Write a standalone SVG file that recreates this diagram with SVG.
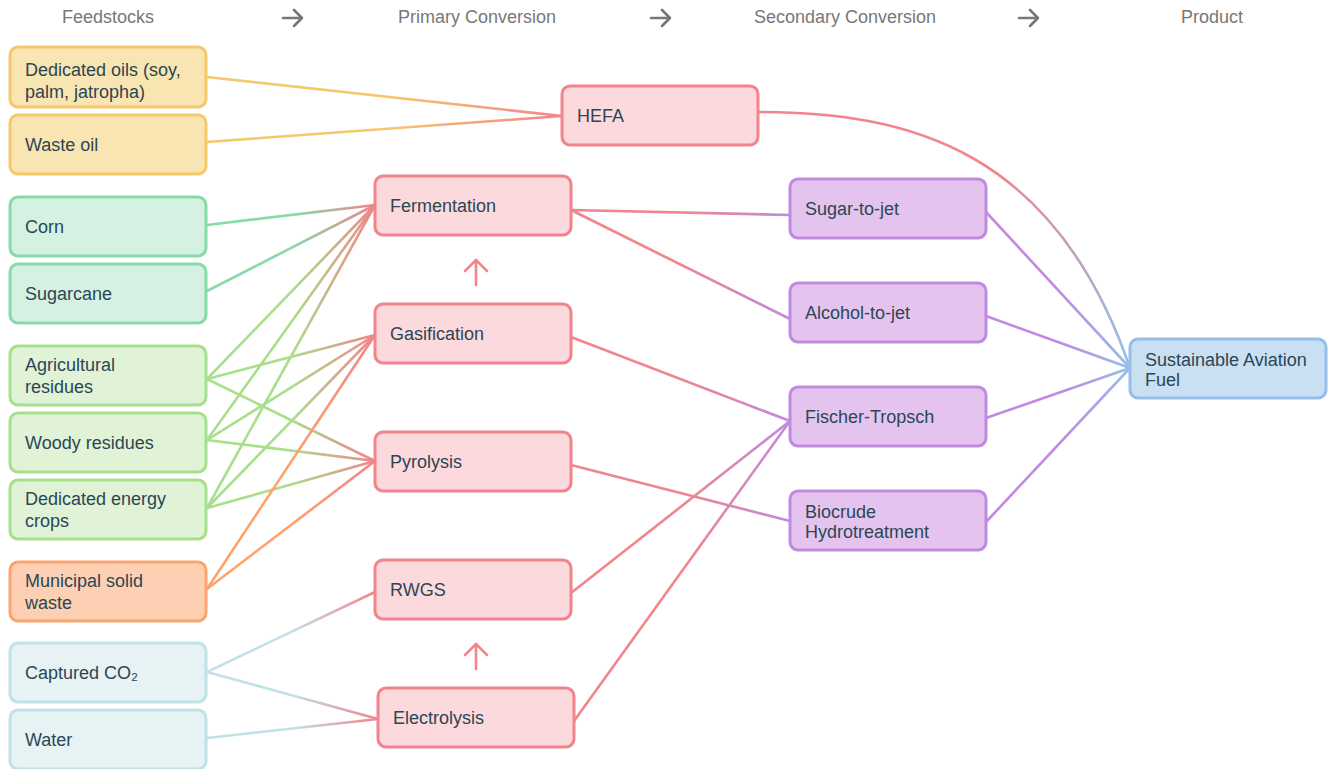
<svg xmlns="http://www.w3.org/2000/svg" width="1330" height="769" viewBox="0 0 1330 769">
<style>
.hdr{font-family:"Liberation Sans",Arial,sans-serif;font-size:18px;fill:#777;text-anchor:middle}
.harr{fill:none;stroke:#777;stroke-width:2.6;stroke-linecap:round;stroke-linejoin:round}
.t{font-family:"Liberation Sans",Arial,"Noto Sans",sans-serif;font-size:18px;fill:#2b4654}
rect{stroke-width:3}
.yel{fill:#f9e5b1;stroke:#f6c86c}
.grn{fill:#d4f1e2;stroke:#86dba8}
.lgr{fill:#e1f3d6;stroke:#a8df8a}
.org{fill:#fdd0b4;stroke:#fca46c}
.tea{fill:#e6f2f4;stroke:#c0e2e6}
.pnk{fill:#fcd9dc;stroke:#f2848b}
.pur{fill:#e4c4ee;stroke:#c08ae0}
.blu{fill:#c9dff2;stroke:#93bfea}
.c{fill:none;stroke-width:2.6}
.up{fill:none;stroke:#f2848b;stroke-width:2.6;stroke-linecap:round;stroke-linejoin:round}
</style>
<defs>
<linearGradient id="g1" gradientUnits="userSpaceOnUse" x1="207" y1="77" x2="562" y2="116"><stop offset="0.5" stop-color="#f6c86c"/><stop offset="1" stop-color="#f2848b"/></linearGradient>
<linearGradient id="g2" gradientUnits="userSpaceOnUse" x1="207" y1="142" x2="562" y2="116"><stop offset="0.5" stop-color="#f6c86c"/><stop offset="1" stop-color="#f2848b"/></linearGradient>
<linearGradient id="g3" gradientUnits="userSpaceOnUse" x1="207" y1="225" x2="375" y2="205"><stop offset="0.5" stop-color="#86dba8"/><stop offset="1" stop-color="#f2848b"/></linearGradient>
<linearGradient id="g4" gradientUnits="userSpaceOnUse" x1="207" y1="291" x2="375" y2="205"><stop offset="0.5" stop-color="#86dba8"/><stop offset="1" stop-color="#f2848b"/></linearGradient>
<linearGradient id="g5" gradientUnits="userSpaceOnUse" x1="207" y1="379" x2="375" y2="205"><stop offset="0.5" stop-color="#a8df8a"/><stop offset="1" stop-color="#f2848b"/></linearGradient>
<linearGradient id="g6" gradientUnits="userSpaceOnUse" x1="207" y1="379" x2="375" y2="335"><stop offset="0.5" stop-color="#a8df8a"/><stop offset="1" stop-color="#f2848b"/></linearGradient>
<linearGradient id="g7" gradientUnits="userSpaceOnUse" x1="207" y1="379" x2="375" y2="461"><stop offset="0.5" stop-color="#a8df8a"/><stop offset="1" stop-color="#f2848b"/></linearGradient>
<linearGradient id="g8" gradientUnits="userSpaceOnUse" x1="207" y1="440" x2="375" y2="205"><stop offset="0.5" stop-color="#a8df8a"/><stop offset="1" stop-color="#f2848b"/></linearGradient>
<linearGradient id="g9" gradientUnits="userSpaceOnUse" x1="207" y1="440" x2="375" y2="335"><stop offset="0.5" stop-color="#a8df8a"/><stop offset="1" stop-color="#f2848b"/></linearGradient>
<linearGradient id="g10" gradientUnits="userSpaceOnUse" x1="207" y1="440" x2="375" y2="461"><stop offset="0.5" stop-color="#a8df8a"/><stop offset="1" stop-color="#f2848b"/></linearGradient>
<linearGradient id="g11" gradientUnits="userSpaceOnUse" x1="207" y1="508" x2="375" y2="205"><stop offset="0.5" stop-color="#a8df8a"/><stop offset="1" stop-color="#f2848b"/></linearGradient>
<linearGradient id="g12" gradientUnits="userSpaceOnUse" x1="207" y1="508" x2="375" y2="335"><stop offset="0.5" stop-color="#a8df8a"/><stop offset="1" stop-color="#f2848b"/></linearGradient>
<linearGradient id="g13" gradientUnits="userSpaceOnUse" x1="207" y1="508" x2="375" y2="461"><stop offset="0.5" stop-color="#a8df8a"/><stop offset="1" stop-color="#f2848b"/></linearGradient>
<linearGradient id="g14" gradientUnits="userSpaceOnUse" x1="207" y1="589" x2="375" y2="335"><stop offset="0.5" stop-color="#fca46c"/><stop offset="1" stop-color="#f2848b"/></linearGradient>
<linearGradient id="g15" gradientUnits="userSpaceOnUse" x1="207" y1="589" x2="375" y2="461"><stop offset="0.5" stop-color="#fca46c"/><stop offset="1" stop-color="#f2848b"/></linearGradient>
<linearGradient id="g16" gradientUnits="userSpaceOnUse" x1="207" y1="672" x2="375" y2="592"><stop offset="0.5" stop-color="#c0e2e6"/><stop offset="1" stop-color="#f2848b"/></linearGradient>
<linearGradient id="g17" gradientUnits="userSpaceOnUse" x1="207" y1="672" x2="378" y2="719"><stop offset="0.5" stop-color="#c0e2e6"/><stop offset="1" stop-color="#f2848b"/></linearGradient>
<linearGradient id="g18" gradientUnits="userSpaceOnUse" x1="207" y1="738" x2="378" y2="719"><stop offset="0.5" stop-color="#c0e2e6"/><stop offset="1" stop-color="#f2848b"/></linearGradient>
<linearGradient id="g19" gradientUnits="userSpaceOnUse" x1="571" y1="210" x2="790" y2="215"><stop offset="0.5" stop-color="#f2848b"/><stop offset="1" stop-color="#c08ae0"/></linearGradient>
<linearGradient id="g20" gradientUnits="userSpaceOnUse" x1="571" y1="210" x2="790" y2="319"><stop offset="0.5" stop-color="#f2848b"/><stop offset="1" stop-color="#c08ae0"/></linearGradient>
<linearGradient id="g21" gradientUnits="userSpaceOnUse" x1="571" y1="337" x2="790" y2="421"><stop offset="0.5" stop-color="#f2848b"/><stop offset="1" stop-color="#c08ae0"/></linearGradient>
<linearGradient id="g22" gradientUnits="userSpaceOnUse" x1="571" y1="465" x2="790" y2="521"><stop offset="0.5" stop-color="#f2848b"/><stop offset="1" stop-color="#c08ae0"/></linearGradient>
<linearGradient id="g23" gradientUnits="userSpaceOnUse" x1="571" y1="593" x2="790" y2="421"><stop offset="0.5" stop-color="#f2848b"/><stop offset="1" stop-color="#c08ae0"/></linearGradient>
<linearGradient id="g24" gradientUnits="userSpaceOnUse" x1="574" y1="721" x2="790" y2="421"><stop offset="0.5" stop-color="#f2848b"/><stop offset="1" stop-color="#c08ae0"/></linearGradient>
<linearGradient id="g25" gradientUnits="userSpaceOnUse" x1="986" y1="212" x2="1130" y2="368"><stop offset="0.5" stop-color="#c08ae0"/><stop offset="1" stop-color="#93bfea"/></linearGradient>
<linearGradient id="g26" gradientUnits="userSpaceOnUse" x1="986" y1="316" x2="1130" y2="368"><stop offset="0.5" stop-color="#c08ae0"/><stop offset="1" stop-color="#93bfea"/></linearGradient>
<linearGradient id="g27" gradientUnits="userSpaceOnUse" x1="986" y1="418" x2="1130" y2="368"><stop offset="0.5" stop-color="#c08ae0"/><stop offset="1" stop-color="#93bfea"/></linearGradient>
<linearGradient id="g28" gradientUnits="userSpaceOnUse" x1="986" y1="522" x2="1130" y2="368"><stop offset="0.5" stop-color="#c08ae0"/><stop offset="1" stop-color="#93bfea"/></linearGradient>
<linearGradient id="g29" gradientUnits="userSpaceOnUse" x1="758" y1="112" x2="1130" y2="368"><stop offset="0.5" stop-color="#f2848b"/><stop offset="1" stop-color="#93bfea"/></linearGradient>
</defs>

<g id="header">
<text class="hdr" x="108" y="23">Feedstocks</text>
<text class="hdr" x="477" y="23">Primary Conversion</text>
<text class="hdr" x="845" y="23">Secondary Conversion</text>
<text class="hdr" x="1212" y="23">Product</text>
<path class="harr" d="M283,18 H302 M294,10 L302,18 L294,26"/>
<path class="harr" d="M651,18 H670 M662,10 L670,18 L662,26"/>
<path class="harr" d="M1019,18 H1038 M1030,10 L1038,18 L1030,26"/>
</g>

<g id="connectors">
<line class="c" stroke="url(#g1)" x1="207" y1="77" x2="562" y2="116"/>
<line class="c" stroke="url(#g2)" x1="207" y1="142" x2="562" y2="116"/>
<line class="c" stroke="url(#g3)" x1="207" y1="225" x2="375" y2="205"/>
<line class="c" stroke="url(#g4)" x1="207" y1="291" x2="375" y2="205"/>
<line class="c" stroke="url(#g5)" x1="207" y1="379" x2="375" y2="205"/>
<line class="c" stroke="url(#g6)" x1="207" y1="379" x2="375" y2="335"/>
<line class="c" stroke="url(#g7)" x1="207" y1="379" x2="375" y2="461"/>
<line class="c" stroke="url(#g8)" x1="207" y1="440" x2="375" y2="205"/>
<line class="c" stroke="url(#g9)" x1="207" y1="440" x2="375" y2="335"/>
<line class="c" stroke="url(#g10)" x1="207" y1="440" x2="375" y2="461"/>
<line class="c" stroke="url(#g11)" x1="207" y1="508" x2="375" y2="205"/>
<line class="c" stroke="url(#g12)" x1="207" y1="508" x2="375" y2="335"/>
<line class="c" stroke="url(#g13)" x1="207" y1="508" x2="375" y2="461"/>
<line class="c" stroke="url(#g14)" x1="207" y1="589" x2="375" y2="335"/>
<line class="c" stroke="url(#g15)" x1="207" y1="589" x2="375" y2="461"/>
<line class="c" stroke="url(#g16)" x1="207" y1="672" x2="375" y2="592"/>
<line class="c" stroke="url(#g17)" x1="207" y1="672" x2="378" y2="719"/>
<line class="c" stroke="url(#g18)" x1="207" y1="738" x2="378" y2="719"/>
<line class="c" stroke="url(#g19)" x1="571" y1="210" x2="790" y2="215"/>
<line class="c" stroke="url(#g20)" x1="571" y1="210" x2="790" y2="319"/>
<line class="c" stroke="url(#g21)" x1="571" y1="337" x2="790" y2="421"/>
<line class="c" stroke="url(#g22)" x1="571" y1="465" x2="790" y2="521"/>
<line class="c" stroke="url(#g23)" x1="571" y1="593" x2="790" y2="421"/>
<line class="c" stroke="url(#g24)" x1="574" y1="721" x2="790" y2="421"/>
<line class="c" stroke="url(#g25)" x1="986" y1="212" x2="1130" y2="368"/>
<line class="c" stroke="url(#g26)" x1="986" y1="316" x2="1130" y2="368"/>
<line class="c" stroke="url(#g27)" x1="986" y1="418" x2="1130" y2="368"/>
<line class="c" stroke="url(#g28)" x1="986" y1="522" x2="1130" y2="368"/>
<path class="c" stroke="url(#g29)" d="M758,112 C910,112 1055,150 1130,368"/>
<path class="up" d="M476,285 V261 M465,271 L476,260 L487,271"/>
<path class="up" d="M476,669 V645 M465,655 L476,644 L487,655"/>
</g>

<g id="n-oils"><rect class="yel" x="10" y="47" width="196" height="60" rx="8"/><text class="t" x="25" y="76">Dedicated oils (soy,</text><text class="t" x="25" y="98">palm, jatropha)</text></g>
<g id="n-waste-oil"><rect class="yel" x="10" y="115" width="196" height="59" rx="8"/><text class="t" x="25" y="151">Waste oil</text></g>
<g id="n-corn"><rect class="grn" x="10" y="197" width="196" height="59" rx="8"/><text class="t" x="25" y="233">Corn</text></g>
<g id="n-sugarcane"><rect class="grn" x="10" y="264" width="196" height="59" rx="8"/><text class="t" x="25" y="300">Sugarcane</text></g>
<g id="n-ag"><rect class="lgr" x="10" y="346" width="196" height="59" rx="8"/><text class="t" x="25" y="371">Agricultural</text><text class="t" x="25" y="393">residues</text></g>
<g id="n-woody"><rect class="lgr" x="10" y="413" width="196" height="59" rx="8"/><text class="t" x="25" y="449">Woody residues</text></g>
<g id="n-crops"><rect class="lgr" x="10" y="480" width="196" height="59" rx="8"/><text class="t" x="25" y="505">Dedicated energy</text><text class="t" x="25" y="527">crops</text></g>
<g id="n-msw"><rect class="org" x="10" y="562" width="196" height="59" rx="8"/><text class="t" x="25" y="587">Municipal solid</text><text class="t" x="25" y="609">waste</text></g>
<g id="n-co2"><rect class="tea" x="10" y="643" width="196" height="59" rx="8"/><text class="t" x="25" y="679">Captured CO₂</text></g>
<g id="n-water"><rect class="tea" x="10" y="710" width="196" height="59" rx="8"/><text class="t" x="25" y="746">Water</text></g>

<g id="n-hefa"><rect class="pnk" x="562" y="86" width="196" height="59" rx="8"/><text class="t" x="577" y="122">HEFA</text></g>
<g id="n-fermentation"><rect class="pnk" x="375" y="176" width="196" height="59" rx="8"/><text class="t" x="390" y="212">Fermentation</text></g>
<g id="n-gasification"><rect class="pnk" x="375" y="304" width="196" height="59" rx="8"/><text class="t" x="390" y="340">Gasification</text></g>
<g id="n-pyrolysis"><rect class="pnk" x="375" y="432" width="196" height="59" rx="8"/><text class="t" x="390" y="468">Pyrolysis</text></g>
<g id="n-rwgs"><rect class="pnk" x="375" y="560" width="196" height="59" rx="8"/><text class="t" x="390" y="596">RWGS</text></g>
<g id="n-electrolysis"><rect class="pnk" x="378" y="688" width="196" height="59" rx="8"/><text class="t" x="393" y="724">Electrolysis</text></g>

<g id="n-sugar-jet"><rect class="pur" x="790" y="179" width="196" height="59" rx="8"/><text class="t" x="805" y="215">Sugar-to-jet</text></g>
<g id="n-alcohol-jet"><rect class="pur" x="790" y="283" width="196" height="59" rx="8"/><text class="t" x="805" y="319">Alcohol-to-jet</text></g>
<g id="n-ft"><rect class="pur" x="790" y="387" width="196" height="59" rx="8"/><text class="t" x="805" y="423">Fischer-Tropsch</text></g>
<g id="n-biocrude"><rect class="pur" x="790" y="491" width="196" height="59" rx="8"/><text class="t" x="805" y="518">Biocrude</text><text class="t" x="805" y="537.5">Hydrotreatment</text></g>

<g id="n-saf"><rect class="blu" x="1130" y="339" width="196" height="59" rx="8"/><text class="t" x="1145" y="366">Sustainable Aviation</text><text class="t" x="1145" y="385.5">Fuel</text></g>
</svg>
